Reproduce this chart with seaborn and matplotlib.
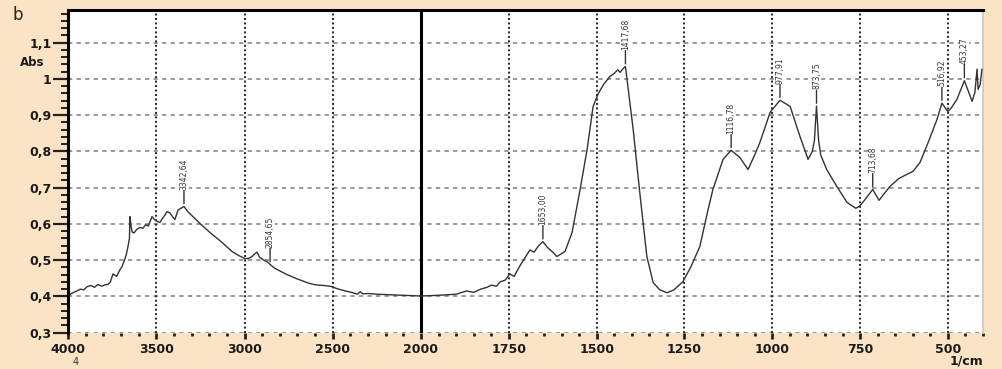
import numpy as np
import pandas as pd
import matplotlib
matplotlib.use('Agg')
import matplotlib.pyplot as plt
from matplotlib.ticker import FixedLocator, FuncFormatter, NullFormatter
import seaborn as sns

# FTIR spectrum (wavenumber in 1/cm, absorbance)
wavenumber = [3990, 3972, 3950, 3930, 3910, 3892, 3870, 3850, 3830, 3810, 3790, 3773,
              3760, 3745, 3725, 3705, 3694, 3680, 3670, 3660, 3652, 3649, 3643, 3637,
              3626, 3610, 3592, 3575, 3560, 3545, 3530, 3524, 3510, 3495, 3479, 3465,
              3450, 3439, 3422, 3405, 3394, 3377, 3360, 3343, 3320, 3292, 3250, 3195,
              3130, 3071, 3030, 2997, 2975, 2957, 2940, 2929, 2915, 2890, 2870, 2855,
              2830, 2790, 2759, 2700, 2640, 2600, 2550, 2504, 2480, 2459, 2420, 2385,
              2360, 2345, 2330, 2300, 2249, 2150, 2045, 2000, 1950, 1900, 1870, 1850,
              1830, 1812, 1800, 1785, 1775, 1760, 1747, 1735, 1718, 1705, 1690, 1678,
              1665, 1653, 1640, 1625, 1613, 1600, 1590, 1570, 1547, 1527, 1510, 1495,
              1480, 1462, 1450, 1440, 1433, 1425, 1418, 1396, 1376, 1357, 1339, 1320,
              1300, 1280, 1254, 1230, 1206, 1185, 1169, 1140, 1117, 1092, 1069, 1050,
              1035, 1006, 978, 949, 921, 898, 886, 880, 874, 868, 862, 845,
              816, 787, 762, 750, 736, 714, 696, 680, 665, 640, 628, 599,
              579, 556, 531, 517, 500, 490, 474, 453, 431, 423, 417, 414,
              408, 403]
absorbance = [0.405, 0.410, 0.415, 0.420, 0.418, 0.427, 0.430, 0.425, 0.433, 0.428, 0.432, 0.433,
              0.440, 0.462, 0.455, 0.474, 0.482, 0.500, 0.515, 0.538, 0.560, 0.620, 0.595, 0.578,
              0.575, 0.585, 0.590, 0.588, 0.598, 0.594, 0.612, 0.620, 0.612, 0.607, 0.604, 0.615,
              0.625, 0.634, 0.630, 0.618, 0.612, 0.638, 0.643, 0.648, 0.633, 0.620, 0.600, 0.576,
              0.550, 0.524, 0.512, 0.504, 0.505, 0.510, 0.518, 0.522, 0.508, 0.500, 0.495, 0.488,
              0.478, 0.468, 0.460, 0.448, 0.437, 0.432, 0.430, 0.427, 0.422, 0.419, 0.414, 0.410,
              0.406, 0.413, 0.407, 0.408, 0.406, 0.404, 0.402, 0.401, 0.403, 0.406, 0.415, 0.411,
              0.420, 0.425, 0.431, 0.428, 0.440, 0.445, 0.462, 0.455, 0.485, 0.505, 0.528, 0.522,
              0.540, 0.551, 0.535, 0.522, 0.510, 0.518, 0.524, 0.576, 0.695, 0.806, 0.924, 0.960,
              0.985, 1.007, 1.015, 1.025, 1.018, 1.028, 1.034, 0.861, 0.676, 0.510, 0.438, 0.418,
              0.410, 0.418, 0.441, 0.485, 0.538, 0.630, 0.695, 0.778, 0.803, 0.783, 0.750, 0.790,
              0.825, 0.908, 0.941, 0.924, 0.841, 0.778, 0.800, 0.830, 0.925, 0.830, 0.790, 0.750,
              0.703, 0.659, 0.643, 0.650, 0.667, 0.695, 0.665, 0.685, 0.703, 0.725, 0.731, 0.745,
              0.770, 0.825, 0.888, 0.933, 0.910, 0.920, 0.944, 0.995, 0.938, 0.963, 1.027, 0.971,
              0.985, 1.027]

peak_wn = [3343, 2855, 1653, 1418, 1117, 978, 874, 714, 517, 453]
peak_labels = ['3342,64', '2854,65', '1653,00', '1417,68', '1116,78',
               '977,91', '873,75', '713,68', '516,92', '453,27']

x_major = [4000, 3500, 3000, 2500, 2000, 1750, 1500, 1250, 1000, 750, 500]
y_major = [0.3, 0.4, 0.5, 0.6, 0.7, 0.8, 0.9, 1.0, 1.1]

df = pd.DataFrame({'wn': wavenumber, 'abs': absorbance})

# the instrument plot uses a compressed scale above 2000 1/cm
L, R = 353.0, 562.0


def fwd(w):
    w = np.asarray(w, dtype=float)
    return np.where(w >= 2000, R + (w - 2000) * L / 2000, (w - 400) * R / 1600)


def inv(p):
    p = np.asarray(p, dtype=float)
    return np.where(p >= R, 2000 + (p - R) * 2000 / L, 400 + p * 1600 / R)


sns.set_style('white')
plt.rcParams['font.family'] = ['DejaVu Sans']

bg = '#FBE4C6'
fig = plt.figure(figsize=(10.02, 3.69), dpi=100, facecolor=bg)
ax = fig.add_axes([68 / 1002, 1 - 333 / 369, (983 - 68) / 1002, (333 - 10) / 369])
ax.set_facecolor('white')
ax.set_xscale('function', functions=(fwd, inv))
ax.set_xlim(4000, 400)
ax.set_ylim(0.299, 1.19)

# grid
ax.yaxis.grid(True, linestyle=(0, (2.2, 2.2)), color='#9a9a9a', lw=1.4)
ax.set_axisbelow(True)
ax.vlines([w for w in x_major if w not in (4000, 2000)], 0.299, 1.19,
          colors='#222222', linestyles=(0, (1, 1.3)), lw=1.4, zorder=1)
ax.axvline(2000, color='black', lw=2.2, zorder=1)

sns.lineplot(data=df, x='wn', y='abs', ax=ax, sort=False, estimator=None,
             color='#333333', lw=1.0, zorder=3)

# peak annotations
for w, lab in zip(peak_wn, peak_labels):
    yv = df.loc[df['wn'] == w, 'abs'].values[0]
    ax.annotate(lab, xy=(w, yv), xytext=(0, 12), textcoords='offset points',
                rotation=90, ha='center', va='bottom', fontsize=5.5,
                color='#333333',
                bbox=dict(boxstyle='square,pad=0.05', fc='white', ec='none'),
                arrowprops=dict(arrowstyle='-', color='#333333', lw=1.0,
                                shrinkA=0, shrinkB=2), zorder=4)

# ticks
ax.xaxis.set_major_locator(FixedLocator(x_major))
minor_x = [w for w in range(3900, 2000, -100) if w % 500] + \
          [w for w in range(1950, 399, -50) if w % 250]
ax.xaxis.set_minor_locator(FixedLocator(minor_x))
ax.xaxis.set_major_formatter(FuncFormatter(lambda v, p: f'{v:.0f}'))
ax.xaxis.set_minor_formatter(NullFormatter())
ax.yaxis.set_major_locator(FixedLocator(y_major))
ax.yaxis.set_minor_locator(FixedLocator(np.arange(0.30, 1.19, 0.02)))
ax.yaxis.set_major_formatter(FuncFormatter(lambda v, p: f'{v:g}'.replace('.', ',')))

ax.tick_params(axis='y', which='major', direction='out', length=11, width=1.6,
               color='#222222', labelsize=9, pad=1, left=True)
ax.tick_params(axis='y', which='minor', direction='out', length=5, width=1.4,
               color='#222222', left=True)
ax.tick_params(axis='x', which='major', direction='out', length=4, width=2,
               color='#222222', labelsize=9, pad=3, bottom=True)
ax.tick_params(axis='x', which='minor', direction='out', length=2.5, width=2,
               color='#222222', bottom=True)
for lab in ax.get_xticklabels() + ax.get_yticklabels():
    lab.set_fontweight('bold')
    lab.set_color('#1a1a1a')

ax.set_xlabel('')
ax.set_ylabel('')

for s in ['left', 'top']:
    ax.spines[s].set_color('black')
    ax.spines[s].set_linewidth(2.2)
    ax.spines[s].set_zorder(5)
ax.spines['bottom'].set_visible(False)
ax.spines['right'].set_color('#c8c8c8')
ax.spines['right'].set_linewidth(1.2)

fig.text(18 / 1002, 1 - 15 / 369, 'b', fontsize=12, ha='center', va='center')
fig.text(32 / 1002, 1 - 62 / 369, 'Abs', fontsize=8.5, fontweight='bold',
         ha='center', va='center', color='#1a1a1a')
fig.text(76 / 1002, 1 - 362 / 369, '4', fontsize=7, ha='center', va='center',
         color='#333333')
fig.text(983 / 1002, 1 - 361 / 369, '1/cm', fontsize=9, fontweight='bold',
         ha='right', va='center', color='#1a1a1a')

fig.savefig('out.png', dpi=100, facecolor=bg)
